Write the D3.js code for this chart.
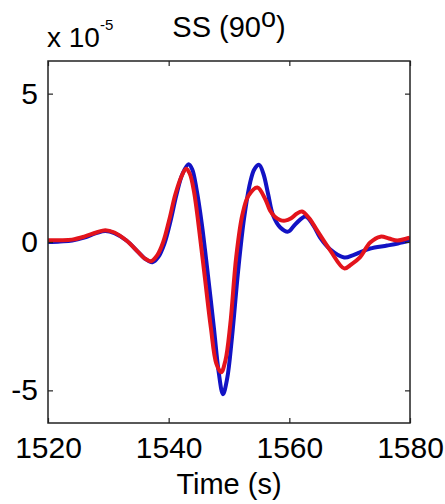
<!DOCTYPE html>
<html>
<head>
<meta charset="utf-8">
<script src="https://cdn.jsdelivr.net/npm/d3@7"></script>
<style>
  body { margin: 0; background: #fff; }
  svg text { font-family: "Liberation Sans", Arial, sans-serif; fill: #000; }
</style>
</head>
<body>
<div id="chart"></div>
<script>
var width = 445;
var height = 504;

// blue trace
var blueT = [1520, 1522, 1524, 1526, 1528, 1529.5, 1531, 1533, 1535, 1536, 1537.3, 1538.3, 1539.3, 1540.3, 1541.3, 1542.3, 1543.3, 1543.9, 1544.6, 1545.5, 1546.5, 1547.5, 1548.3, 1549.0, 1549.7, 1550.5, 1551.5, 1552.5, 1553.5, 1554.2, 1555.0, 1555.7, 1556.5, 1557.3, 1558.5, 1559.8, 1561, 1562.7, 1564, 1565.1, 1566.8, 1569.1, 1570.5, 1571.7, 1573.4, 1576.2, 1578, 1580];
var blueV = [0.0, 0.02, 0.05, 0.15, 0.3, 0.37, 0.3, 0.05, -0.35, -0.55, -0.68, -0.5, -0.05, 0.7, 1.6, 2.3, 2.62, 2.45, 1.8, 0.6, -1.1, -2.9, -4.4, -5.13, -4.6, -3.2, -1.0, 0.8, 2.0, 2.45, 2.6, 2.3, 1.6, 0.9, 0.49, 0.35, 0.6, 0.86, 0.55, 0.15, -0.25, -0.52, -0.45, -0.35, -0.22, -0.12, -0.05, 0.05];

// red trace
var redT = [1520, 1522, 1524, 1526, 1528, 1529.5, 1531, 1533, 1535, 1536, 1537.1, 1538.1, 1539.1, 1540.1, 1541.1, 1542.1, 1542.9, 1543.5, 1544.2, 1545, 1546, 1547, 1547.9, 1548.7, 1549.4, 1550.2, 1551.2, 1552.2, 1553.2, 1554.7, 1556, 1556.8, 1557.6, 1558.5, 1559.3, 1560.3, 1561.2, 1562.1, 1563.3, 1564.6, 1566.8, 1569.1, 1570.3, 1571.7, 1573.4, 1575.1, 1576.5, 1577.9, 1580];
var redV = [0.06, 0.06, 0.08, 0.18, 0.32, 0.4, 0.32, 0.05, -0.35, -0.55, -0.65, -0.45, 0.0, 0.75, 1.6, 2.2, 2.47, 2.3, 1.7, 0.5, -1.2, -2.9, -4.1, -4.39, -4.0, -2.8, -0.5, 0.9, 1.55, 1.84, 1.45, 1.06, 0.85, 0.74, 0.72, 0.8, 0.95, 1.03, 0.8, 0.39, -0.29, -0.89, -0.75, -0.52, -0.02, 0.18, 0.12, 0.05, 0.15];

var xTicks = [1520, 1540, 1560, 1580];
var yTicks = [-5, 0, 5];

var margin = {left: 48, right: 35, top: 61, down: 81};

var svg = d3.select("#chart").append("svg")
  .attr("width", width)
  .attr("height", height);

var x = d3.scaleLinear()
  .domain([1520, 1580])
  .range([margin.left, width - margin.right]);

var y = d3.scaleLinear()
  .domain([-6.1, 6.1])
  .range([height - margin.down, margin.top]);

var line = d3.line()
  .x(function(d) { return x(d[0]); })
  .y(function(d) { return y(d[1]); })
  .curve(d3.curveCatmullRom.alpha(0.5));

var blue = blueT.map(function(t, i) { return [t, blueV[i]]; });
var red = redT.map(function(t, i) { return [t, redV[i]]; });

svg.append("clipPath").attr("id", "clip")
  .append("rect")
  .attr("x", x(1520)).attr("y", y(6.1))
  .attr("width", x(1580) - x(1520)).attr("height", y(-6.1) - y(6.1));

var plot = svg.append("g").attr("clip-path", "url(#clip)");

plot.append("path")
  .datum(blue)
  .attr("fill", "none")
  .attr("stroke", "#1212c4")
  .attr("stroke-width", 4)
  .attr("stroke-linejoin", "round")
  .attr("d", line);

plot.append("path")
  .datum(red)
  .attr("fill", "none")
  .attr("stroke", "#e3141c")
  .attr("stroke-width", 4)
  .attr("stroke-linejoin", "round")
  .attr("d", line);

// axes, MATLAB style box with inward ticks
var axisColor = "#222";
var tickLen = 5;
var plain = function(d) { return String(d); };

function styleAxis(g) {
  g.select(".domain").remove();
  g.selectAll(".tick line").attr("stroke", axisColor).attr("stroke-width", 1.2);
}

svg.append("g")
  .attr("transform", "translate(0," + y(-6.1) + ")")
  .call(d3.axisBottom(x).tickValues(xTicks).tickSize(-tickLen).tickPadding(14).tickFormat(plain))
  .call(styleAxis)
  .selectAll("text")
  .style("font-size", "30px")
  .attr("fill", "#000");

svg.append("g")
  .attr("transform", "translate(0," + y(6.1) + ")")
  .call(d3.axisTop(x).tickValues(xTicks).tickSize(-tickLen).tickFormat(""))
  .call(styleAxis);

svg.append("g")
  .attr("transform", "translate(" + x(1520) + ",0)")
  .call(d3.axisLeft(y).tickValues(yTicks).tickSize(-tickLen).tickPadding(10).tickFormat(plain))
  .call(styleAxis)
  .selectAll("text")
  .style("font-size", "30px")
  .attr("fill", "#000");

svg.append("g")
  .attr("transform", "translate(" + x(1580) + ",0)")
  .call(d3.axisRight(y).tickValues(yTicks).tickSize(-tickLen).tickFormat(""))
  .call(styleAxis);

svg.append("rect")
  .attr("x", x(1520)).attr("y", y(6.1))
  .attr("width", x(1580) - x(1520)).attr("height", y(-6.1) - y(6.1))
  .attr("fill", "none")
  .attr("stroke", axisColor)
  .attr("stroke-width", 1.5);

// exponent label
var expo = svg.append("text")
  .attr("x", 47)
  .attr("y", 47)
  .style("font-size", "28px");
expo.append("tspan").text("x 10");
expo.append("tspan").attr("dy", -17).style("font-size", "15px").text("-5");

// title
var title = svg.append("text")
  .attr("x", (x(1520) + x(1580)) / 2)
  .attr("y", 37)
  .attr("text-anchor", "middle")
  .style("font-size", "29px");
title.append("tspan").text("SS (90");
title.append("tspan").attr("dy", -10).style("font-size", "27px").text("o");
title.append("tspan").attr("dy", 10).text(")");

// x label
svg.append("text")
  .attr("x", (x(1520) + x(1580)) / 2)
  .attr("y", 494)
  .attr("text-anchor", "middle")
  .style("font-size", "29px")
  .text("Time (s)");
</script>
</body>
</html>
